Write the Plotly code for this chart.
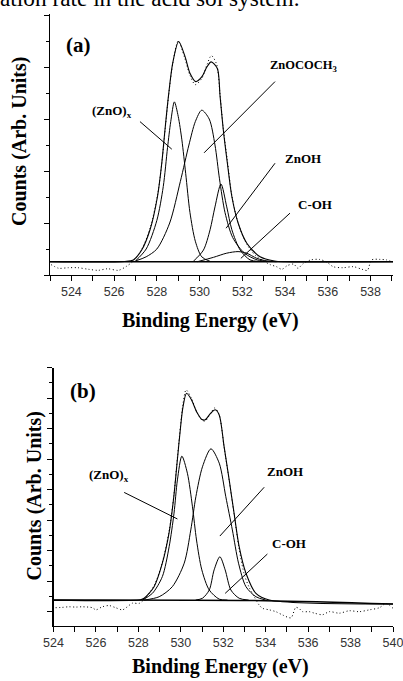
import plotly.graph_objects as go

# ---------------- Panel (a) data ----------------
a_env_x = [523.0, 526.5, 526.9, 527.29, 527.68, 528.03, 528.23, 528.38, 528.54, 528.74, 529.02,
           529.32, 529.55, 529.82, 530.10, 530.34, 530.54, 530.83, 530.96, 531.11, 531.30,
           531.51, 531.81, 532.21, 532.83, 533.5, 534.0, 539.05]
a_env_y = [0.256, 0.26, 0.29, 0.48, 0.87, 1.51, 2.15, 2.79, 3.43, 4.07, 4.49,
           4.20, 3.88, 3.72, 3.81, 4.00, 4.10, 3.97, 3.43, 2.79, 2.15,
           1.51, 0.99, 0.61, 0.35, 0.27, 0.256, 0.256]

a_znox_x = [527.0, 527.5, 528.0, 528.3, 528.5, 528.65, 528.82, 529.0, 529.17, 529.35, 529.55, 529.8, 530.1, 530.5]
a_znox_y = [0.27, 0.5, 1.05, 1.7, 2.45, 2.95, 3.33, 3.05, 2.6, 1.95, 1.2, 0.65, 0.35, 0.26]

a_ac_x = [527.0, 527.5, 528.0, 528.6, 529.1, 529.5, 529.8, 530.1, 530.45, 530.72, 530.93, 531.19, 531.55, 532.1, 532.7, 533.3]
a_ac_y = [0.27, 0.35, 0.5, 1.0, 1.8, 2.5, 2.95, 3.17, 3.0, 2.5, 1.85, 1.2, 0.72, 0.42, 0.29, 0.26]

a_znoh_x = [529.7, 530.18, 530.49, 530.72, 531.0, 531.27, 531.51, 531.9, 532.36, 532.8]
a_znoh_y = [0.26, 0.48, 0.87, 1.31, 1.75, 1.31, 0.87, 0.48, 0.29, 0.26]

a_coh_x = [529.9, 530.65, 531.27, 531.8, 532.2, 532.68, 533.15, 533.6]
a_coh_y = [0.256, 0.34, 0.42, 0.45, 0.42, 0.32, 0.27, 0.256]

a_base_x = [523.0, 539.05]
a_base_y = [0.256, 0.256]

a_raw_x = [523.05, 523.4, 523.85, 524.3, 524.8, 525.25, 525.7, 526.2, 526.55, 526.9, 527.3, 527.7,
           528.05, 528.25, 528.4, 528.55, 528.75, 529.0, 529.3, 529.55, 529.8, 530.1, 530.35,
           530.55, 530.8, 530.95, 531.1, 531.3, 531.5, 531.8, 532.2, 532.6, 533.0, 533.3, 533.6,
           533.85, 534.1, 534.4, 534.6, 534.85, 535.2, 535.6, 535.95, 536.25, 536.7, 537.2,
           537.6, 537.85, 538.05, 538.45, 538.75, 539.05]
a_raw_y = [0.2, 0.13, 0.14, 0.14, 0.11, 0.09, 0.12, 0.09, 0.16, 0.27, 0.5, 0.92,
           1.58, 2.22, 2.85, 3.45, 4.08, 4.5, 4.18, 3.84, 3.66, 3.78, 4.05,
           4.22, 4.05, 3.5, 2.85, 2.2, 1.55, 1.0, 0.6, 0.38, 0.27, 0.2, 0.16,
           0.11, 0.18, 0.21, 0.13, 0.22, 0.29, 0.3, 0.25, 0.16, 0.14, 0.16,
           0.11, 0.09, 0.29, 0.3, 0.29, 0.25]

# ---------------- Panel (b) data ----------------
b_env_x = [524.0, 528.1, 528.27, 528.74, 529.13, 529.45, 529.67, 529.84, 529.98, 530.1, 530.27,
           530.5, 530.75, 531.0, 531.15, 531.4, 531.62, 531.81, 532.04, 532.28, 532.51, 532.75,
           533.07, 533.54, 534.17, 540.0]
b_env_y = [0.38, 0.39, 0.44, 0.82, 1.59, 2.6, 3.77, 5.0, 6.0, 6.7, 7.16,
           6.95, 6.55, 6.3, 6.29, 6.5, 6.62, 6.45, 5.41, 4.32, 3.23, 2.13,
           1.26, 0.6, 0.38, 0.25]

b_znox_x = [528.19, 528.66, 529.13, 529.45, 529.68, 529.84, 530.05, 530.31, 530.55, 530.74, 530.99, 531.34, 531.81, 532.2]
b_znox_y = [0.38, 0.6, 1.15, 2.13, 3.23, 4.32, 5.1, 4.54, 3.44, 2.35, 1.37, 0.71, 0.41, 0.38]

b_znoh_x = [528.27, 528.98, 529.6, 530.16, 530.47, 530.71, 531.02, 531.42, 531.81, 532.12, 532.43, 532.72, 533.07, 533.54, 534.0]
b_znoh_y = [0.38, 0.49, 0.82, 1.59, 2.68, 3.77, 4.75, 5.34, 4.87, 3.77, 2.68, 1.59, 0.82, 0.49, 0.38]

b_coh_x = [530.7, 531.02, 531.34, 531.57, 531.84, 532.09, 532.36, 532.75, 533.2]
b_coh_y = [0.38, 0.44, 0.71, 1.37, 1.8, 1.37, 0.71, 0.44, 0.38]

b_base_x = [524.0, 534.0, 540.0]
b_base_y = [0.38, 0.36, 0.25]

b_raw_x = [524.1, 524.4, 524.73, 525.05, 525.36, 525.83, 526.0, 526.3, 526.62, 526.93, 527.25, 527.48,
           527.72, 528.03, 528.27, 528.74, 529.13, 529.45, 529.67, 529.84, 529.98, 530.1, 530.25,
           530.5, 530.75, 531.0, 531.15, 531.4, 531.6, 531.81, 532.04, 532.28, 532.51, 532.75,
           533.0, 533.22, 533.46, 533.69, 533.85, 534.17, 534.48, 534.8, 535.19, 535.42, 535.58,
           535.74, 536.05, 536.3, 536.68, 537.0, 537.47, 537.94, 538.41, 538.89, 539.36, 539.67, 540.0]
b_raw_y = [0.13, 0.14, 0.16, 0.15, 0.16, 0.13, 0.06, 0.16, 0.2, 0.13, 0.06, 0.16,
           0.28, 0.27, 0.4, 0.85, 1.62, 2.65, 3.8, 5.05, 6.05, 6.8, 7.27,
           7.0, 6.55, 6.28, 6.25, 6.5, 6.68, 6.45, 5.4, 4.3, 3.2, 2.05,
           1.2, 0.8, 0.49, 0.22, 0.11, 0.06, 0.0, -0.11, -0.2, 0.14, 0.1,
           0.0, 0.0, -0.05, -0.1, 0.0, -0.05, 0.03, 0.0, 0.06, 0.13, 0.27, 0.11]

x_tick_labels_a = ["524", "526", "528", "530", "532", "534", "536", "538"]
x_tick_labels_b = ["524", "526", "528", "530", "532", "534", "536", "538", "540"]

W, H = 403, 681
SERIF = "Liberation Serif, Times New Roman, serif"
SANS = "Liberation Sans, Arial, sans-serif"

fig = go.Figure()

def curve(x, y, xa, ya, width=1.0, dash=None):
    fig.add_trace(go.Scatter(x=x, y=y, xaxis=xa, yaxis=ya, mode="lines",
                             line=dict(color="black", width=width, shape="spline", smoothing=0.8,
                                       dash=dash),
                             showlegend=False, hoverinfo="skip"))

# panel a
curve(a_base_x, a_base_y, "x", "y", width=1.6)
curve(a_raw_x, a_raw_y, "x", "y", width=1.0, dash="1px,2.5px")
curve(a_znox_x, a_znox_y, "x", "y")
curve(a_ac_x, a_ac_y, "x", "y")
curve(a_znoh_x, a_znoh_y, "x", "y")
curve(a_coh_x, a_coh_y, "x", "y")
curve(a_env_x, a_env_y, "x", "y", width=1.1)

# panel b
curve(b_base_x, b_base_y, "x2", "y2", width=1.6)
curve(b_raw_x, b_raw_y, "x2", "y2", width=1.0, dash="1px,2.5px")
curve(b_znox_x, b_znox_y, "x2", "y2")
curve(b_znoh_x, b_znoh_y, "x2", "y2")
curve(b_coh_x, b_coh_y, "x2", "y2")
curve(b_env_x, b_env_y, "x2", "y2", width=1.1)

common_x = dict(showline=True, linecolor="black", linewidth=1.2, showgrid=False, zeroline=False,
                automargin=False, ticklabeloverflow="allow",
                ticks="outside", tickcolor="black", ticklen=5, tickwidth=1,
                tickfont=dict(family=SANS, size=12.5, color="#333"),
                minor=dict(ticks="outside", ticklen=5, tickwidth=1, tickcolor="black", dtick=1, showgrid=False))
common_y = dict(showline=True, linecolor="black", linewidth=1.2, showgrid=False, zeroline=False,
                automargin=False,
                ticks="outside", tickcolor="black", ticklen=5, tickwidth=1, showticklabels=False,
                tick0=0, dtick=1,
                minor=dict(ticks="outside", ticklen=3, tickwidth=1, tickcolor="black", dtick=0.5, showgrid=False))

fig.update_layout(
    width=W, height=H, margin=dict(l=0, r=0, t=0, b=0, autoexpand=False),
    paper_bgcolor="white", plot_bgcolor="white",
    xaxis=dict(domain=[50 / W, 393 / W], range=[523, 539.05], anchor="y",
               tickvals=[524, 526, 528, 530, 532, 534, 536, 538], ticktext=x_tick_labels_a, **common_x),
    yaxis=dict(domain=[1 - 275 / H, 1 - 14 / H], range=[0, 5.02], anchor="x", **common_y),
    xaxis2=dict(domain=[53.5 / W, 393 / W], range=[524, 540], anchor="y2",
                tickvals=[524, 526, 528, 530, 532, 534, 536, 538, 540], ticktext=x_tick_labels_b, **common_x),
    yaxis2=dict(domain=[1 - 626 / H, 1 - 367.7 / H], range=[-0.47, 8.0], anchor="x2", **common_y),
)

def label(text, x, y, xref, yref, size, xanchor="center", yanchor="middle", **kw):
    fig.add_annotation(text=text, x=x, y=y, xref=xref, yref=yref, showarrow=False,
                       xanchor=xanchor, yanchor=yanchor,
                       font=dict(family=SERIF, size=size, color="black"), **kw)

def leader(x0, y0, x1, y1, xref, yref):
    fig.add_shape(type="line", x0=x0, y0=y0, x1=x1, y1=y1, xref=xref, yref=yref,
                  line=dict(color="black", width=1))

# panel a labels
label("<b>(a)</b>", 524.31, 4.42, "x", "y", 21)
label("<b>(ZnO)<sub>x</sub></b>", 525.9, 3.15, "x", "y", 13)
label("<b>ZnOCOCH<sub>3</sub></b>", 534.89, 4.02, "x", "y", 12.5)
label("<b>ZnOH</b>", 534.84, 2.25, "x", "y", 13)
label("<b>C-OH</b>", 535.4, 1.35, "x", "y", 13)
leader(527.21, 2.95, 528.70, 2.42, "x", "y")
leader(533.53, 3.72, 530.21, 2.35, "x", "y")
leader(533.53, 2.15, 531.24, 0.90, "x", "y")
leader(534.23, 1.19, 531.93, 0.32, "x", "y")

# panel b labels
label("<b>(b)</b>", 525.39, 7.24, "x2", "y2", 21)
label("<b>(ZnO)<sub>x</sub></b>", 526.62, 4.45, "x2", "y2", 13)
label("<b>ZnOH</b>", 534.92, 4.61, "x2", "y2", 13)
label("<b>C-OH</b>", 535.11, 2.25, "x2", "y2", 13)
leader(527.33, 3.91, 529.84, 3.04, "x2", "y2")
leader(533.93, 4.08, 531.84, 2.48, "x2", "y2")
leader(534.08, 1.89, 532.09, 0.60, "x2", "y2")

# axis titles
label("<b>Binding Energy (eV)</b>", 211 / W, 1 - 320 / H, "paper", "paper", 20)
label("<b>Binding Energy (eV)</b>", 221 / W, 1 - 666 / H, "paper", "paper", 20)
label("<b>Counts (Arb. Units)</b>", 19 / W, 1 - 142 / H, "paper", "paper", 20, textangle=-90)
label("<b>Counts (Arb. Units)</b>", 33.5 / W, 1 - 496 / H, "paper", "paper", 20, textangle=-90)

# caption fragment at top (cut off)
label("ation rate in the acid sol system.", -2 / W, 1 - 13 / H, "paper", "paper", 23.3,
      xanchor="left", yanchor="bottom")

fig.write_html("out.html",
               config={"displayModeBar": False, "staticPlot": True},
               post_script="document.body.style.margin='0';document.body.style.padding='0';"
                           "document.documentElement.style.overflow='hidden';")
